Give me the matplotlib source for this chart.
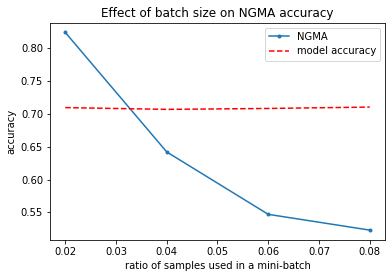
import matplotlib
matplotlib.use("Agg")
import matplotlib.pyplot as plt

ratios = [0.02, 0.04, 0.06, 0.08]
ngma_acc = [0.824, 0.642, 0.547, 0.523]
model_acc = [0.7095, 0.7068, 0.7082, 0.7103]

fig = plt.figure(figsize=(392 / 72, 278 / 72), dpi=72)
ax = fig.add_axes([50 / 392, 1 - 240 / 278, 335 / 392, (240 - 22.5) / 278])
ax.plot(ratios, ngma_acc, marker='.', label='NGMA')
ax.plot(ratios, model_acc, 'r--', label='model accuracy')
ax.set_title('Effect of batch size on NGMA accuracy')
ax.set_xlabel('ratio of samples used in a mini-batch')
ax.set_ylabel('accuracy')
ax.legend(loc='upper right')
fig.savefig('out.png', dpi=72)
